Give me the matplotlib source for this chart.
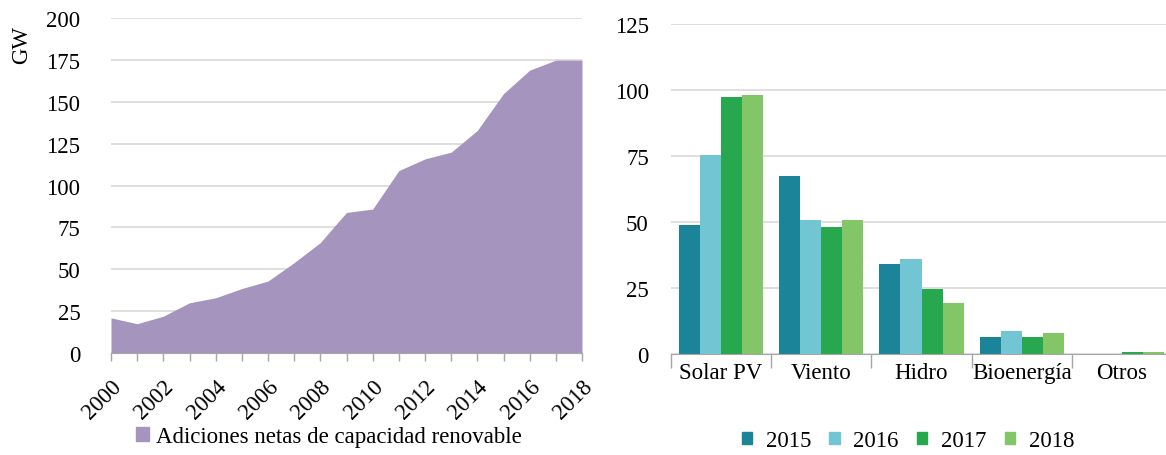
import matplotlib
matplotlib.use('Agg')
import matplotlib.pyplot as plt
from matplotlib.patches import Patch
import numpy as np

plt.rcParams['font.family'] = ['Liberation Serif', 'DejaVu Serif']

# left chart: net renewable capacity additions (GW)
years = [2000, 2001, 2002, 2003, 2004, 2005, 2006, 2007, 2008, 2009,
         2010, 2011, 2012, 2013, 2014, 2015, 2016, 2017, 2018]
additions = [21, 17.5, 22, 30, 33, 38.5, 43, 54, 66, 84,
             86, 109, 116, 120, 133, 155, 169, 175, 175]
area_label = 'Adiciones netas de capacidad renovable'

# right chart: additions by technology
techs = ['Solar PV', 'Viento', 'Hidro', 'Bioenergía', 'Otros']
series_years = ['2015', '2016', '2017', '2018']
by_tech = {
    '2015': [49, 67.5, 34, 6.3, 0],
    '2016': [75.5, 50.8, 36, 8.6, 0],
    '2017': [97.5, 48, 24.5, 6.3, 0.7],
    '2018': [98, 50.7, 19.3, 8.1, 0.6],
}
bar_colors = ['#1b8498', '#72c6d4', '#27a84e', '#83c668']

W, H = 1166, 456
fig = plt.figure(figsize=(W / 100, H / 100), dpi=100)

fs = 16.5
grid_c = '#d9d9d9'
axis_c = '#a6a6a6'

# ---- left: area chart
ax1 = fig.add_axes([111 / W, 1 - 354 / H, (582 - 111) / W, (354 - 19.3) / H])
ax1.fill_between(years, additions, 0, color='#a594bd', lw=0, zorder=2)
ax1.set_xlim(2000, 2018)
ax1.set_ylim(0, 200)
ax1.set_yticks(np.arange(0, 201, 25))
ax1.set_xticks(years[::2])
ax1.set_xticks(years, minor=True)
ax1.set_xticklabels([str(y) for y in years[::2]], rotation=45, ha='right',
                    rotation_mode='anchor', fontsize=fs)
ax1.tick_params(axis='y', length=0, pad=22, labelsize=fs)
ax1.tick_params(axis='x', which='both', direction='out', length=6,
                color=axis_c, width=1, pad=10)
ax1.grid(axis='y', color=grid_c, lw=1.2, zorder=0)
for s in ['left', 'right', 'top']:
    ax1.spines[s].set_visible(False)
ax1.spines['bottom'].set_color(axis_c)
ax1.set_axisbelow(True)
fig.text(22 / W, 1 - 45 / H, 'GW', rotation=90, ha='center', va='center',
         fontsize=fs)
fig.legend(handles=[Patch(color='#a594bd', label=area_label)],
           loc='center', bbox_to_anchor=(329 / W, 1 - 438 / H), frameon=False,
           fontsize=fs, handlelength=0.55, handleheight=0.55, handletextpad=0.3)

# ---- right: grouped bars
ax2 = fig.add_axes([671 / W, 1 - 355 / H, (1172 - 671) / W, 330 / H])
x = np.arange(len(techs))
bw = 0.21
for k, yr in enumerate(series_years):
    ax2.bar(x + (k - 1.5) * bw, by_tech[yr], width=bw, color=bar_colors[k],
            label=yr, zorder=2, lw=0)
ax2.set_xlim(-0.5, len(techs) - 0.5)
ax2.set_ylim(0, 125)
ax2.set_yticks(np.arange(0, 126, 25))
ax2.set_xticks(x)
ax2.set_xticklabels(techs, fontsize=fs)
ax2.set_xticks(np.arange(-0.5, len(techs), 1), minor=True)
ax2.tick_params(axis='x', which='major', length=0, pad=6)
ax2.tick_params(axis='x', which='minor', length=10, color=axis_c, width=1)
ax2.tick_params(axis='y', length=0, pad=16, labelsize=fs)
ax2.grid(axis='y', color=grid_c, lw=1.2, zorder=0)
for s in ['left', 'right', 'top']:
    ax2.spines[s].set_visible(False)
ax2.spines['bottom'].set_color(axis_c)
ax2.set_axisbelow(True)
fig.legend(handles=[Patch(color=c, label=l) for c, l in zip(bar_colors, series_years)],
           loc='center', bbox_to_anchor=(908 / W, 1 - 442 / H), ncol=4,
           frameon=False, fontsize=fs, handlelength=0.45, handleheight=0.45,
           handletextpad=0.6, columnspacing=0.8)

fig.savefig('out.png', dpi=100)
